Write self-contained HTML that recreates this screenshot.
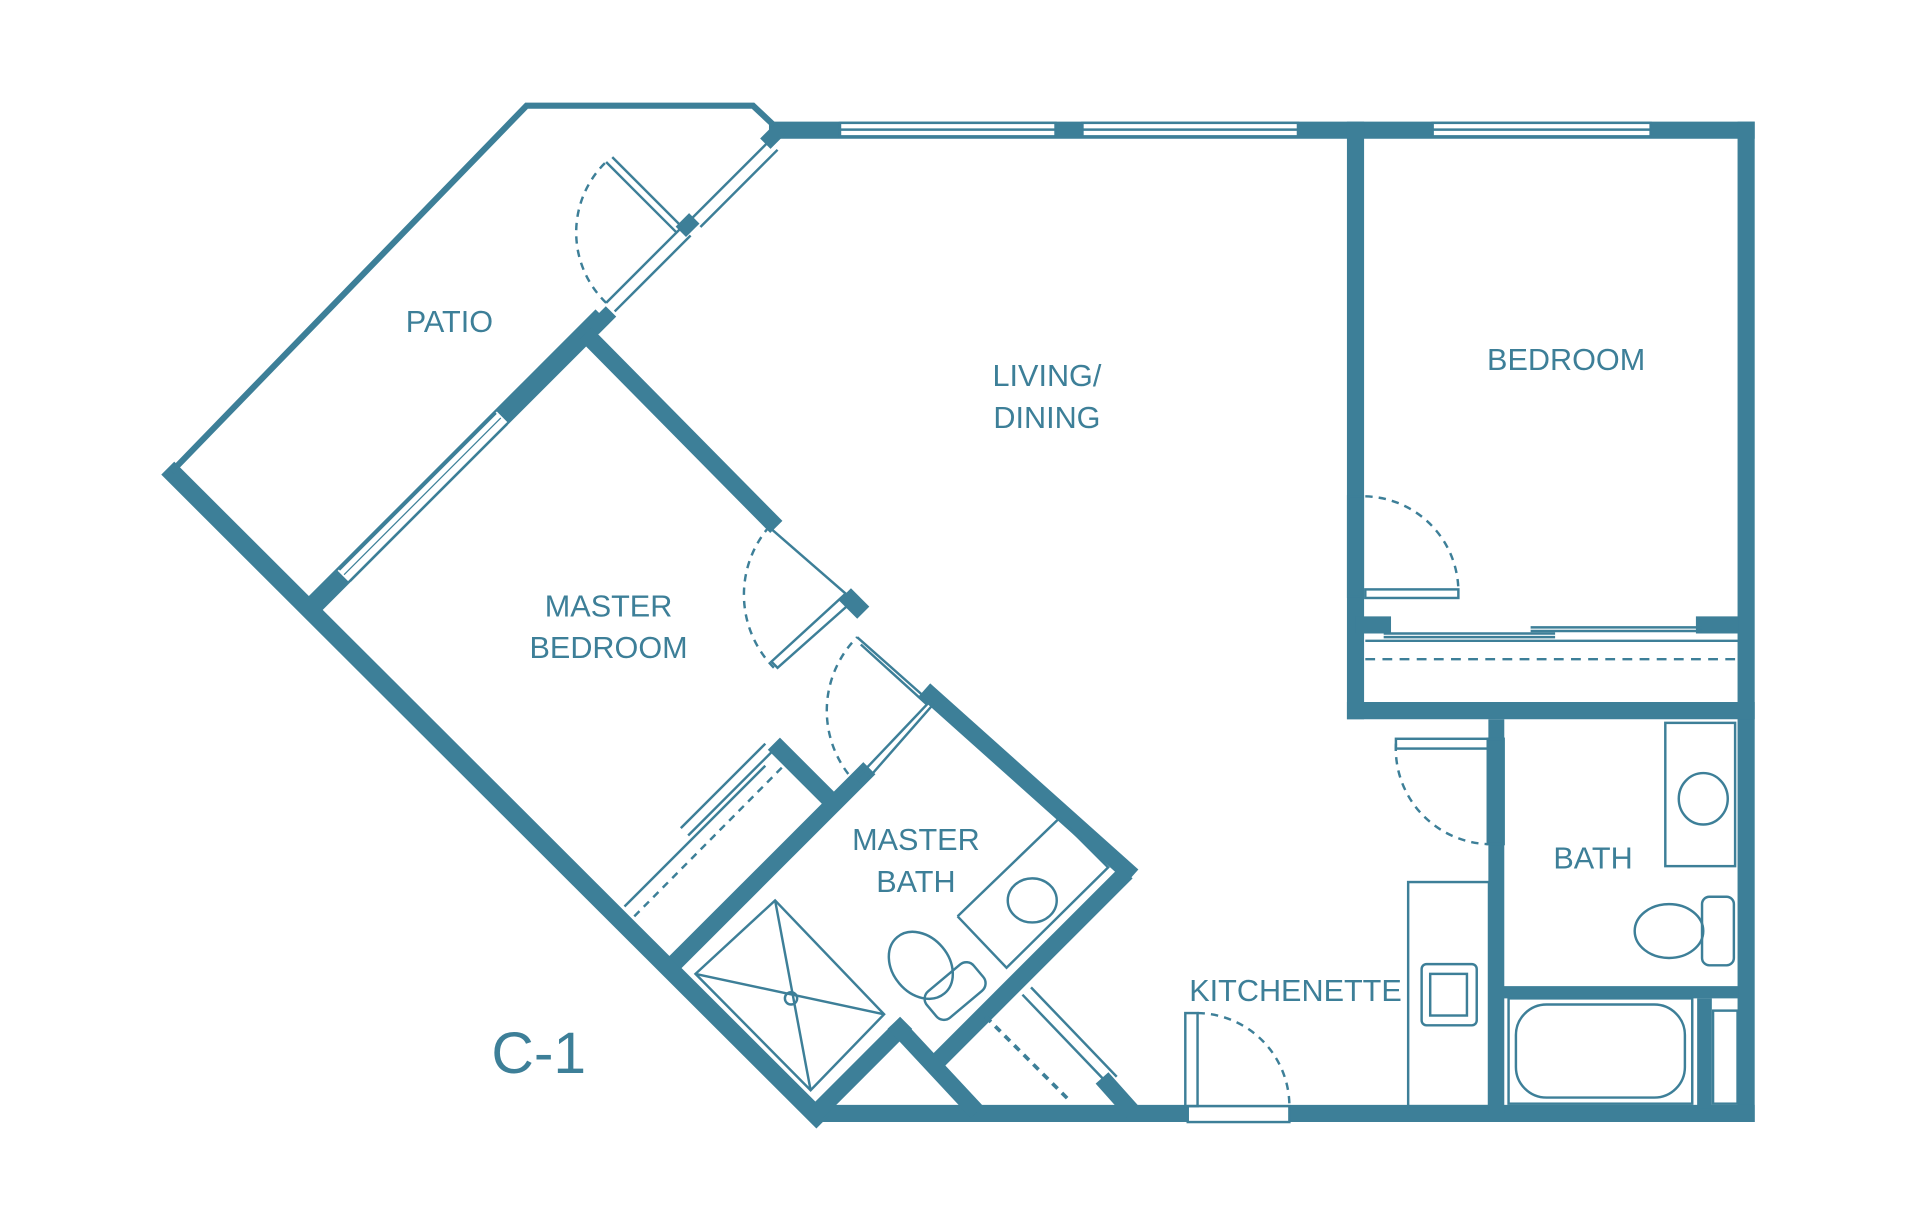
<!DOCTYPE html>
<html><head><style>html,body{margin:0;padding:0;background:#fff}svg{display:block}</style></head>
<body>
<svg width="1920" height="1229" viewBox="0 0 1568 1003" xmlns="http://www.w3.org/2000/svg">
<rect width="1568" height="1003" fill="#fff"/>
<g stroke="#3d7f98" fill="none" stroke-linecap="butt">
<line x1="628" y1="106" x2="1433" y2="106" stroke-width="14"/>
<line x1="1426" y1="99" x2="1426" y2="916" stroke-width="14"/>
<line x1="662" y1="909" x2="1433" y2="909" stroke-width="14"/>
<line x1="137" y1="382" x2="672" y2="916" stroke-width="15"/>
<polyline points="140,385 430,86 615,86 632,102" stroke-width="5"/>
<line x1="257" y1="493" x2="492" y2="258" stroke-width="16"/>
<line x1="485" y1="268" x2="499" y2="254" stroke-width="12"/>
<line x1="556" y1="189" x2="567" y2="178" stroke-width="12"/>
<line x1="625" y1="117" x2="638" y2="104" stroke-width="12"/>
<line x1="478" y1="272" x2="634" y2="430" stroke-width="14"/>
<line x1="690" y1="485" x2="705" y2="500" stroke-width="14"/>
<line x1="755" y1="563" x2="925" y2="715" stroke-width="14"/>
<line x1="920" y1="712" x2="766" y2="866" stroke-width="14"/>
<line x1="632" y1="607" x2="680" y2="655" stroke-width="14"/>
<line x1="710" y1="627" x2="551" y2="786" stroke-width="14"/>
<line x1="740" y1="835" x2="667" y2="908" stroke-width="14"/>
<line x1="730" y1="835" x2="798" y2="908" stroke-width="14"/>
<line x1="900" y1="880" x2="925" y2="908" stroke-width="14"/>
<line x1="1107" y1="99" x2="1107" y2="587" stroke-width="14"/>
<line x1="1100" y1="580" x2="1433" y2="580" stroke-width="14"/>
<line x1="1107" y1="510" x2="1136" y2="510" stroke-width="14"/>
<line x1="1385" y1="510" x2="1420" y2="510" stroke-width="14"/>
<line x1="1222" y1="587" x2="1222" y2="909" stroke-width="13"/>
<line x1="1228" y1="810" x2="1420" y2="810" stroke-width="10"/>
<line x1="1392" y1="815" x2="1392" y2="905" stroke-width="12"/>
</g>
<g fill="#fff" stroke="#3d7f98" stroke-width="2">
<rect x="686" y="100" width="176" height="11"/><line x1="686" y1="105.5" x2="862" y2="105.5"/>
<rect x="884" y="100" width="176" height="11"/><line x1="884" y1="105.5" x2="1060" y2="105.5"/>
<rect x="1170" y="100" width="178" height="11"/><line x1="1170" y1="105.5" x2="1348" y2="105.5"/>
<rect x="970" y="903" width="83" height="13"/>
</g>
<g stroke="#3d7f98" fill="none" stroke-width="2">
<line x1="280" y1="470" x2="410" y2="340" stroke="#fff" stroke-width="12"/>
<line x1="277" y1="465" x2="405" y2="337"/><line x1="286" y1="474" x2="414" y2="346"/>
<line x1="281" y1="469" x2="409" y2="341" stroke-width="1"/>
<line x1="495" y1="247" x2="557" y2="185"/><line x1="502" y1="254" x2="564" y2="192"/>
<line x1="565" y1="178" x2="628" y2="115"/><line x1="572" y1="185" x2="635" y2="122"/>
<line x1="495" y1="132" x2="553" y2="190"/><line x1="500" y1="128" x2="556" y2="184"/>
<path d="M495,247 A80,80 0 0 1 497,130" stroke-dasharray="6,5"/>
<polyline points="628,430 697,490 635,545 630,540 690,485"/>
<path d="M632,545 A85,85 0 0 1 628,430" stroke-dasharray="6,5"/>
<polyline points="700,520 762,575 705,640 700,635 757,575 703,526"/>
<path d="M700,640 A85,85 0 0 1 700,520" stroke-dasharray="6,5"/>
<line x1="556" y1="676" x2="625" y2="607"/><line x1="562" y1="682" x2="631" y2="613"/>
<line x1="510" y1="740" x2="625" y2="625"/>
<line x1="518" y1="748" x2="645" y2="620" stroke-dasharray="6,5"/>
<polygon points="568,795 633,735 722,828 662,890"/>
<line x1="568" y1="795" x2="722" y2="828"/><line x1="633" y1="735" x2="662" y2="890"/>
<circle cx="646" cy="815" r="5"/>
<ellipse cx="752" cy="788" rx="23" ry="30" transform="rotate(-40 752 788)"/>
<rect x="755" y="795" width="50" height="28" rx="8" transform="rotate(-40 780 809)"/>
<polyline points="782,748 865,668 905,708 822,790 782,748"/>
<ellipse cx="843" cy="735" rx="20" ry="18"/>
<line x1="835" y1="812" x2="905" y2="885"/><line x1="842" y1="806" x2="912" y2="879"/>
<line x1="805" y1="830" x2="875" y2="900" stroke-dasharray="6,5" stroke-width="3"/>
<rect x="1101" y="405" width="12" height="82"/>
<rect x="1115" y="481" width="76" height="7"/>
<path d="M1115,405 A78,78 0 0 1 1191,481" stroke-dasharray="6,5"/>
<line x1="1130" y1="517" x2="1270" y2="517"/><line x1="1250" y1="512" x2="1390" y2="512"/>
<line x1="1130" y1="520" x2="1270" y2="520"/><line x1="1250" y1="515" x2="1390" y2="515"/>
<line x1="1115" y1="523" x2="1420" y2="523"/>
<line x1="1115" y1="538" x2="1418" y2="538" stroke-dasharray="8,6"/>
<rect x="1140" y="603" width="75" height="8"/>
<rect x="1215" y="603" width="13" height="86"/>
<path d="M1140,607 A78,78 0 0 0 1215,689" stroke-dasharray="6,5"/>
<rect x="1360" y="590" width="57" height="117"/>
<ellipse cx="1391" cy="652" rx="20" ry="21"/>
<ellipse cx="1363" cy="760" rx="28" ry="22"/>
<rect x="1390" y="732" width="26" height="56" rx="6"/>
<rect x="1232" y="815" width="150" height="86"/>
<rect x="1238" y="820" width="138" height="76" rx="25"/>
<rect x="1399" y="825" width="20" height="76"/>
<rect x="1150" y="720" width="66" height="183"/>
<rect x="1161" y="787" width="45" height="50" rx="4"/>
<rect x="1168" y="795" width="30" height="34"/>
<rect x="968" y="827" width="10" height="76"/>
<path d="M978,827 A76,76 0 0 1 1053,903" stroke-dasharray="6,5"/>
</g>
<g fill="#3d7f98" font-family="Liberation Sans, sans-serif" font-size="25" text-anchor="middle">
<text x="367" y="271">PATIO</text>
<text x="855" y="315">LIVING/</text>
<text x="855" y="349">DINING</text>
<text x="1279" y="302">BEDROOM</text>
<text x="497" y="503">MASTER</text>
<text x="497" y="537">BEDROOM</text>
<text x="748" y="694">MASTER</text>
<text x="748" y="728">BATH</text>
<text x="1301" y="709">BATH</text>
<text x="1058" y="817">KITCHENETTE</text>
<text x="440" y="876" font-size="48">C-1</text>
</g>
</svg>
</body></html>
